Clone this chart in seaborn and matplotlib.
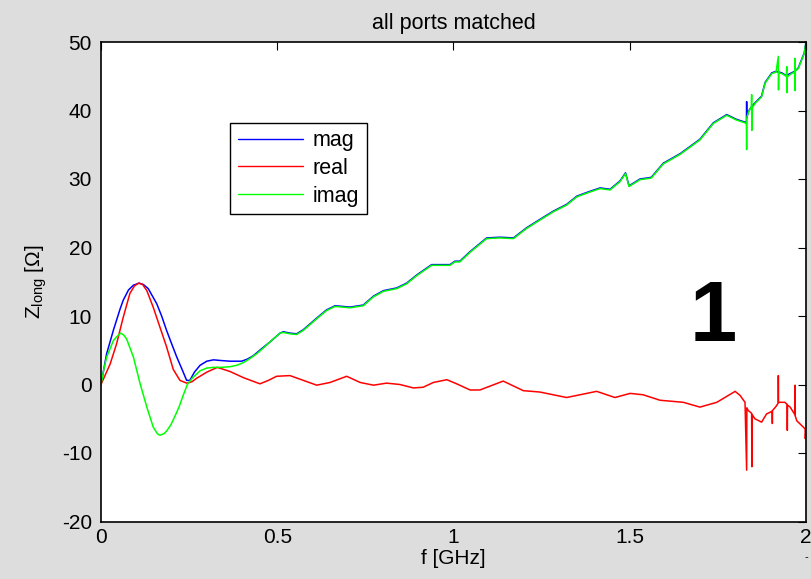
import numpy as np
import pandas as pd
import matplotlib
matplotlib.use("Agg")
import matplotlib.pyplot as plt
import seaborn as sns

# ---------------- data ----------------
title_text = "all ports matched"
x_label = "f [GHz]"
y_label = "Z$_{long}$ [Ω]"
series_names = ["mag", "real", "imag"]
x_ticks = [0, 0.5, 1, 1.5, 2]
x_tick_labels = ["0", "0.5", "1", "1.5", "2"]
y_ticks = [-20, -10, 0, 10, 20, 30, 40, 50]
y_tick_labels = ["-20", "-10", "0", "10", "20", "30", "40", "50"]

mag_f = [0, 0.016, 0.035, 0.054, 0.063, 0.078, 0.092, 0.108, 0.120, 0.134, 0.158, 0.172,
         0.186, 0.200, 0.215, 0.230, 0.243, 0.252, 0.265, 0.281, 0.300, 0.319, 0.340,
         0.366, 0.399, 0.415, 0.432, 0.455, 0.479, 0.508, 0.517, 0.536, 0.555, 0.574,
         0.612, 0.640, 0.664, 0.706, 0.744, 0.773, 0.801, 0.839, 0.867, 0.896, 0.938,
         0.990, 1.004, 1.018, 1.047, 1.094, 1.132, 1.170, 1.208, 1.245, 1.283, 1.321,
         1.350, 1.387, 1.416, 1.444, 1.472, 1.488, 1.498, 1.529, 1.557, 1.562, 1.595,
         1.643, 1.699, 1.737, 1.775, 1.803, 1.827, 1.831, 1.8316, 1.8322, 1.837, 1.846,
         1.855, 1.874, 1.884, 1.903, 1.915, 1.931, 1.944, 1.959, 1.968, 1.978, 1.988,
         1.995, 2.000]
mag_z = [0, 4.5, 7.9, 11.0, 12.3, 13.8, 14.5, 14.8, 14.6, 14.0, 11.8, 10.0,
         7.9, 6.0, 4.0, 2.2, 0.6, 0.6, 1.8, 2.8, 3.4, 3.6, 3.5,
         3.4, 3.4, 3.7, 4.2, 5.2, 6.2, 7.5, 7.7, 7.5, 7.4, 8.0,
         9.7, 10.9, 11.5, 11.3, 11.6, 12.9, 13.7, 14.1, 14.8, 16.0, 17.5,
         17.5, 18.0, 18.0, 19.4, 21.4, 21.5, 21.4, 22.9, 24.1, 25.3, 26.3,
         27.5, 28.2, 28.7, 28.5, 29.7, 30.9, 29.0, 30.0, 30.2, 30.3, 32.3,
         33.7, 35.8, 38.2, 39.4, 38.7, 38.3, 38.1, 41.3, 39.0, 39.9, 40.6,
         41.1, 42.1, 44.1, 45.5, 45.7, 45.5, 45.1, 45.5, 45.7, 46.2, 47.5,
         48.4, 50.0]

real_f = [0, 0.026, 0.044, 0.063, 0.082, 0.095, 0.107, 0.118, 0.130, 0.148, 0.167, 0.186,
          0.205, 0.224, 0.243, 0.258, 0.271, 0.300, 0.330, 0.366, 0.404, 0.430, 0.451,
          0.475, 0.498, 0.536, 0.574, 0.612, 0.650, 0.697, 0.735, 0.773, 0.810, 0.848,
          0.886, 0.914, 0.943, 0.981, 1.009, 1.047, 1.075, 1.141, 1.198, 1.245, 1.321,
          1.406, 1.458, 1.501, 1.538, 1.586, 1.652, 1.699, 1.747, 1.799, 1.813, 1.827,
          1.8316, 1.8322, 1.836, 1.8458, 1.8465, 1.8472, 1.855, 1.874, 1.888, 1.9040,
          1.9045, 1.9050, 1.915, 1.9212, 1.9215, 1.9220, 1.940, 1.9465, 1.9470, 1.9475,
          1.955, 1.9685, 1.9690, 1.9695, 1.974, 1.992, 1.9975, 1.998, 2.000]
real_z = [0, 3.0, 5.9, 9.8, 13.3, 14.4, 14.8, 14.6, 13.7, 11.3, 8.4, 5.5,
          2.2, 0.6, 0.2, 0.4, 0.9, 1.8, 2.5, 1.9, 1.0, 0.5, 0.1,
          0.6, 1.2, 1.3, 0.6, -0.1, 0.3, 1.2, 0.3, -0.1, 0.2, 0.0,
          -0.5, -0.4, 0.3, 0.7, 0.1, -0.8, -0.8, 0.5, -0.9, -1.1, -1.9,
          -1.0, -1.9, -1.3, -1.5, -2.3, -2.6, -3.3, -2.6, -1.0, -1.6, -2.6,
          -12.5, -3.4, -3.8, -4.2, -12.0, -4.4, -5.0, -5.5, -4.3, -3.9,
          -5.7, -3.8, -3.2, -2.7, 1.3, -2.6, -2.6, -2.9, -6.7, -3.0,
          -3.3, -4.4, -0.1, -4.6, -5.3, -6.2, -6.5, -7.9, -6.6]

imag_f = [0, 0.008, 0.016, 0.035, 0.045, 0.056, 0.065, 0.073, 0.092, 0.111, 0.130, 0.148,
          0.160, 0.167, 0.178, 0.186, 0.198, 0.210, 0.222, 0.233, 0.245, 0.260, 0.281,
          0.300, 0.319, 0.340, 0.366, 0.385, 0.404, 0.420, 0.442, 0.460, 0.479, 0.508,
          0.517, 0.536, 0.555, 0.574, 0.612, 0.640, 0.664, 0.706, 0.744, 0.773, 0.801,
          0.839, 0.867, 0.896, 0.938, 0.990, 1.004, 1.018, 1.047, 1.094, 1.132, 1.170,
          1.208, 1.245, 1.283, 1.321, 1.350, 1.387, 1.416, 1.444, 1.472, 1.488, 1.498,
          1.529, 1.557, 1.562, 1.595, 1.643, 1.699, 1.737, 1.775, 1.803, 1.827, 1.831,
          1.8316, 1.8322, 1.837, 1.845, 1.8458, 1.8465, 1.848, 1.855, 1.874, 1.884,
          1.903, 1.915, 1.9215, 1.922, 1.9228, 1.931, 1.944, 1.9455, 1.946, 1.9468,
          1.959, 1.968, 1.9685, 1.969, 1.9698, 1.978, 1.988, 1.995, 2.000]
imag_z = [0, 2.2, 4.0, 6.4, 7.0, 7.5, 7.2, 6.6, 4.0, 0.1, -3.3, -6.2,
          -7.2, -7.4, -7.2, -6.8, -5.9, -4.6, -3.2, -1.6, 0.0, 1.0, 2.0,
          2.4, 2.5, 2.5, 2.6, 2.8, 3.2, 3.7, 4.5, 5.3, 6.2, 7.5,
          7.6, 7.4, 7.3, 7.9, 9.6, 10.8, 11.4, 11.2, 11.5, 12.8, 13.6,
          14.0, 14.7, 15.9, 17.4, 17.4, 17.9, 17.9, 19.3, 21.3, 21.4, 21.3,
          22.8, 24.0, 25.2, 26.2, 27.4, 28.1, 28.6, 28.4, 29.6, 30.8, 28.9,
          29.9, 30.1, 30.2, 32.2, 33.6, 35.7, 38.1, 39.3, 38.6, 38.2, 38.0,
          34.3, 39.0, 39.8, 40.5, 42.3, 37.1, 40.4, 41.0, 42.0, 44.0,
          45.4, 45.6, 47.9, 43.0, 45.5, 45.4, 45.0, 46.4, 42.6, 44.9,
          45.4, 45.6, 47.6, 42.9, 45.8, 46.1, 47.4, 48.3, 50.0]

# ---------------- figure ----------------
sns.set_theme(style="white")
plt.rcParams["font.family"] = ["Liberation Sans", "DejaVu Sans"]
plt.rcParams["mathtext.default"] = "regular"
plt.rcParams["text.color"] = "black"
plt.rcParams["axes.labelcolor"] = "black"
plt.rcParams["xtick.color"] = "black"
plt.rcParams["ytick.color"] = "black"

bg = "#dddddd"
fig = plt.figure(figsize=(8.12, 5.79), dpi=100, facecolor=bg)
ax = fig.add_axes([101 / 812, 1 - 521.5 / 579, 705 / 812, 479.5 / 579])
ax.set_facecolor("white")

colors = {"mag": "#0000ff", "real": "#ff0000", "imag": "#00ff00"}
data = {"mag": (mag_f, mag_z), "real": (real_f, real_z), "imag": (imag_f, imag_z)}
for name in series_names:
    f, z = data[name]
    df = pd.DataFrame({"f": f, "Z": z})
    sns.lineplot(data=df, x="f", y="Z", ax=ax, color=colors[name], linewidth=1.1,
                 estimator=None, sort=False, label=name)

ax.set_xlim(0, 2)
ax.set_ylim(-20, 50)
ax.set_xticks(x_ticks)
ax.set_xticklabels(x_tick_labels)
ax.set_yticks(y_ticks)
ax.set_yticklabels(y_tick_labels)
ax.tick_params(axis="both", which="both", direction="in", length=6, width=0.8,
               top=True, right=True, labelsize=15, pad=5)
ax.tick_params(axis="y", pad=6.5)
for s in ax.spines.values():
    s.set_visible(True)
    s.set_color("black")
    s.set_linewidth(1.2)

ax.set_title(title_text, fontsize=15.5, pad=9, color="black")
ax.set_xlabel(x_label, fontsize=15, labelpad=1)
ax.set_ylabel(y_label, fontsize=15, labelpad=9)

leg = ax.legend(loc="upper left", bbox_to_anchor=((230 - 101) / 705, (521.5 - 122.5) / 479.5),
                fontsize=15.5, frameon=True, fancybox=False, framealpha=1,
                edgecolor="black", handlelength=3.05, handletextpad=0.45,
                labelspacing=0.32, borderpad=0.35, borderaxespad=0)
leg.get_frame().set_linewidth(1.0)
for line in leg.get_lines():
    line.set_linewidth(1.0)

ax.text(1.737, 6.4, "1", fontsize=61, fontweight="bold", ha="center", va="baseline",
        color="black")
fig.text(806 / 812, 1 - 557 / 579, "-", fontsize=8, ha="center", va="center", color="black")

fig.savefig("out.png", dpi=100, facecolor=bg)
